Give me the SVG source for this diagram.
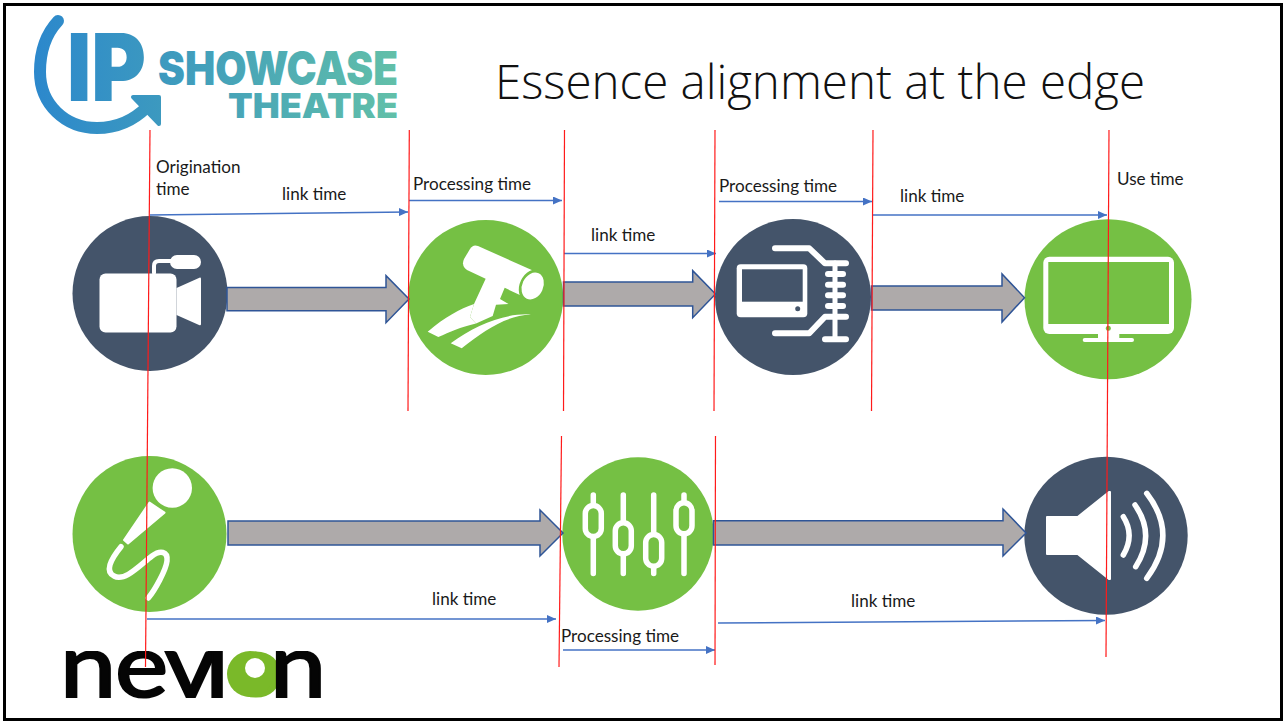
<svg xmlns="http://www.w3.org/2000/svg" width="1285" height="722" viewBox="0 0 1285 722">
<style>
.lbl{font-family:"Lato","Liberation Sans",sans-serif;font-size:17.1px;fill:#1a1a1a}
.title{font-family:"Open Sans","Noto Sans",sans-serif;font-size:48px;font-weight:300;fill:#111}
.blue{fill:#44546A}.green{fill:#75C044}
.w{fill:#fff}.ws{fill:none;stroke:#fff;stroke-linecap:round;stroke-linejoin:round}
.red{stroke:#FF1A1A;stroke-width:1.2;fill:none}
.link{stroke:#4472C4;stroke-width:1.4;fill:none;marker-end:url(#tip)}
.block{fill:#AEAAAA;stroke:#2F5597;stroke-width:1.5}
.logo{font-family:"Inter","Roboto",sans-serif;font-weight:900;fill:url(#lg)}
.nev{font-family:"Lato","Liberation Sans",sans-serif;font-weight:400;font-size:90px;fill:#050505;stroke:#050505;stroke-width:2.2}
</style>
<defs>
<marker id="tip" markerUnits="userSpaceOnUse" markerWidth="10" markerHeight="8" refX="9" refY="4" orient="auto"><path d="M0,0L9,4L0,8Z" fill="#4472C4"/></marker>
<linearGradient id="lg" gradientUnits="userSpaceOnUse" x1="35" y1="0" x2="400" y2="0"><stop offset="0" stop-color="#2C88CC"/><stop offset=".4" stop-color="#3F9CBD"/><stop offset="1" stop-color="#62C0A8"/></linearGradient>
<clipPath id="nc"><rect x="60" y="651" width="275" height="48"/></clipPath>
</defs>
<rect x="4.5" y="4.5" width="1277" height="715" fill="#fff" stroke="#000" stroke-width="3"/>
<g id="logo-ip">
<path d="M58,21C44,36 40,55 40,72C40,104 65,128 97,128C117,128 134,120 147,107" fill="none" stroke="url(#lg)" stroke-width="12" stroke-linecap="round"/>
<path d="M133,97L159,97L159,124Z" fill="url(#lg)" stroke="url(#lg)" stroke-width="4" stroke-linejoin="round"/>
<text class="logo" x="67" y="101" font-size="93" textLength="79" lengthAdjust="spacingAndGlyphs">IP</text>
<text class="logo" x="158" y="85" font-size="47" textLength="240" lengthAdjust="spacingAndGlyphs">SHOWCASE</text>
<text class="logo" x="228" y="118" font-size="34" textLength="170" lengthAdjust="spacingAndGlyphs">THEATRE</text>
</g>
<text class="title" x="495" y="99" textLength="650" lengthAdjust="spacingAndGlyphs">Essence alignment at the edge</text>
<g id="logo-nevion">
<g clip-path="url(#nc)">
<text class="nev" transform="scale(1.12 1)" y="697" x="53.6 102.7 147 183 203 241">nevi<tspan style="fill:#7AB929;stroke:none">o</tspan>n</text>
</g>
<circle cx="250" cy="674" r="23" fill="#7AB929"/><circle cx="255" cy="668" r="10" fill="#fff"/>
</g>
<g id="node-camera">
<ellipse class="blue" cx="150" cy="293.5" rx="77.5" ry="77.5"/>
<rect class="w" x="99.5" y="273.5" width="77" height="59" rx="6"/>
<path class="w" d="M176.5,288L200,277.5Q201,277 201,279L201,324Q201,326 199,325L176.5,315Z"/>
<rect class="w" x="170" y="255" width="31" height="14" rx="7"/>
<path class="ws" stroke-width="4" d="M154,273L154,266Q154,261 159,261L172,261"/>
</g>
<g id="node-cctv">
<circle class="green" cx="485.7" cy="297.5" r="77.5"/>
<path class="w" d="M427.7,331.7C445,317 460,309 474,304L470,317L476,323.5C460,327 450,332 438.3,337Z"/>
<path class="w" d="M450.7,343.3C475,325 505,313 531,314.5C505,316 485,330 461.7,348.3Z"/>
<path class="w" d="M486,278L505,287L500,299L508.5,304L496,304.7L492.7,316L476,323.5L470,317L474,304Z"/>
<path class="w" d="M478,246L534,271L522,296L467,270Q461,266 464,259L470,249Q473,244 478,246Z"/>
<ellipse class="green" cx="532.7" cy="286" rx="13" ry="17.5" transform="rotate(25 532.7 286)"/>
<ellipse class="w" cx="532.7" cy="286" rx="10.5" ry="14" transform="rotate(25 532.7 286)"/>
</g>
<g id="node-chip">
<circle class="blue" cx="793" cy="297" r="78"/>
<rect class="w" x="736.7" y="264.3" width="70.6" height="53" rx="4"/>
<rect class="blue" x="742" y="269.3" width="60.7" height="32.4"/>
<circle class="blue" cx="797.7" cy="308.7" r="2.5"/>
<path class="ws" stroke-width="6" d="M775,248.3L809.3,248.3L825,263.3L846,263.3M775,333.3L809.3,333.3L825,316.7L846,316.7M825,339.3L846,339.3M828,274L843,274M828,284.7L843,284.7M828,295.3L843,295.3M828,306L843,306"/>
<path class="ws" stroke-width="5" d="M835,263L835,339"/>
</g>
<g id="node-monitor">
<ellipse class="green" cx="1108" cy="299.3" rx="83.5" ry="80"/>
<rect class="w" x="1043.3" y="256.7" width="130.7" height="77.3" rx="6"/>
<rect class="green" x="1048.3" y="262" width="120.7" height="62"/>
<circle class="green" cx="1108.3" cy="328.3" r="2.5"/>
<rect class="w" x="1098" y="333" width="21.3" height="7"/>
<rect class="w" x="1082.7" y="338" width="51.3" height="4" rx="2"/>
</g>
<g id="node-mic">
<ellipse class="green" cx="149.5" cy="534" rx="77" ry="78"/>
<circle class="w" cx="172.3" cy="488" r="19.7"/>
<path class="w" stroke="#fff" stroke-width="2" stroke-linejoin="round" d="M149.5,502.5L164.5,512.7L128,543.5L124,540Z"/>
<path class="ws" stroke-width="5.5" d="M121,546.7C110,560 105,572 114,576C125,582 140,565 152,556C160,550 168,551 167,561C166,570 155,590 148.3,598"/>
</g>
<g id="node-mixer">
<ellipse class="green" cx="638" cy="534" rx="75.7" ry="76.7"/>
<path class="ws" stroke-width="5.5" d="M593.3,495L593.3,573.5M623.3,495L623.3,573.5M653.7,495L653.7,573.5M684,495L684,573.5"/>
<g class="green" stroke="#fff" stroke-width="5.5">
<rect x="585.3" y="505.5" width="16" height="31" rx="8"/>
<rect x="615.3" y="522.8" width="16" height="31" rx="8"/>
<rect x="645.7" y="534.5" width="16" height="31.7" rx="8"/>
<rect x="676" y="502.8" width="16" height="31" rx="8"/>
</g>
</g>
<g id="node-speaker">
<ellipse class="blue" cx="1106" cy="535.7" rx="81.7" ry="79"/>
<path class="w" stroke="#fff" stroke-width="2" stroke-linejoin="round" d="M1047,517L1077.7,517L1109,492L1110,492L1110,579L1109,579L1077.7,554L1047,554Z"/>
<path class="ws" stroke-width="5.5" d="M1123.3,516.7Q1135,535 1123.3,555M1135,505Q1156,535 1135.7,566.7M1146.7,493.3Q1179,535 1146.7,578.3"/>
</g>
<g id="connectors">
<path class="block" d="M227,287.5L386,287.5L386,275.7L409,299L386,322.7L386,310.7L227,310.7Z"/>
<path class="block" d="M563.5,282L692.7,282L692.7,270.7L715.5,294L692.7,317.7L692.7,306L563.5,306Z"/>
<path class="block" d="M871.5,286L1002,286L1002,274L1024.5,297.7L1002,322L1002,310L871.5,310Z"/>
<path class="block" d="M228,521L540,521L540,510L563,533L540,556L540,545L228,545Z"/>
<path class="block" d="M713.5,520.7L1003,520.7L1003,509L1026,533L1003,556L1003,545L713.5,545Z"/>
<path class="link" d="M150,215L408,212"/>
<path class="link" d="M409,200.5L562,200.5"/>
<path class="link" d="M564,253.5L716,253.5"/>
<path class="link" d="M719,201.5L872,201.5"/>
<path class="link" d="M872,215L1107,215"/>
<path class="link" d="M147,619L556,619"/>
<path class="link" d="M563,650L715,650"/>
<path class="link" d="M718,623L1105,620.5"/>
<path class="red" d="M150,130L145.5,667"/>
<path class="red" d="M409.3,130L408,411"/>
<path class="red" d="M564.5,130L563.5,411"/>
<path class="red" d="M715,130L714,411"/>
<path class="red" d="M873,130L871.5,411"/>
<path class="red" d="M1109,130L1106,657"/>
<path class="red" d="M561.5,436L559,667"/>
<path class="red" d="M715.5,436L715,665"/>
</g>
<g id="labels">
<text class="lbl" x="156" y="173">Origination</text>
<text class="lbl" x="156" y="195">time</text>
<text class="lbl" x="282" y="200">link time</text>
<text class="lbl" x="413" y="190">Processing time</text>
<text class="lbl" x="591" y="241">link time</text>
<text class="lbl" x="719" y="192">Processing time</text>
<text class="lbl" x="900" y="202">link time</text>
<text class="lbl" x="1117" y="185">Use time</text>
<text class="lbl" x="432" y="605">link time</text>
<text class="lbl" x="561" y="642">Processing time</text>
<text class="lbl" x="851" y="607">link time</text>
</g>
</svg>
